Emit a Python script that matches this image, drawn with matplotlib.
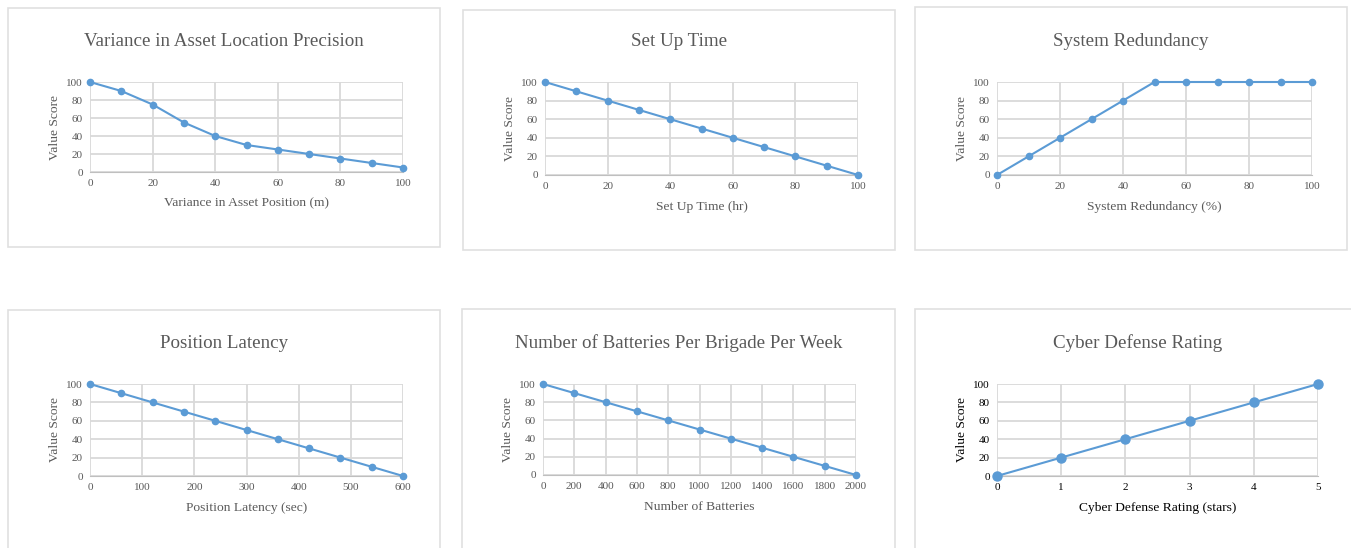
import matplotlib
matplotlib.use("Agg")
import matplotlib.pyplot as plt
from matplotlib.patches import Rectangle

plt.rcParams['font.family'] = ['Liberation Serif', 'DejaVu Serif']

# data
var_x = [0, 10, 20, 30, 40, 50, 60, 70, 80, 90, 100]
var_y = [100, 90, 75, 55, 40, 30, 25, 20, 15, 10, 5]
setup_x = [0, 10, 20, 30, 40, 50, 60, 70, 80, 90, 100]
setup_y = [100, 90, 80, 70, 60, 50, 40, 30, 20, 10, 0]
red_x = [0, 10, 20, 30, 40, 50, 60, 70, 80, 90, 100]
red_y = [0, 20, 40, 60, 80, 100, 100, 100, 100, 100, 100]
lat_x = [0, 60, 120, 180, 240, 300, 360, 420, 480, 540, 600]
lat_y = [100, 90, 80, 70, 60, 50, 40, 30, 20, 10, 0]
bat_x = [0, 200, 400, 600, 800, 1000, 1200, 1400, 1600, 1800, 2000]
bat_y = [100, 90, 80, 70, 60, 50, 40, 30, 20, 10, 0]
cyb_x = [0, 1, 2, 3, 4, 5]
cyb_y = [0, 20, 40, 60, 80, 100]

W, H = 1351, 548
fig = plt.figure(figsize=(W / 100, H / 100), dpi=100)

LINE = '#5B9BD5'
GRID = '#D9D9D9'
TXT = '#595959'

panels = [
    dict(box=(8, 8, 440, 247), ax=(90, 82, 403, 172), x=var_x, y=var_y,
         xt=range(0, 101, 20), title='Variance in Asset Location Precision',
         xl='Variance in Asset Position (m)', c=TXT, ms=4.5),
    dict(box=(463, 10, 895, 250), ax=(545, 82, 858, 175), x=setup_x, y=setup_y,
         xt=range(0, 101, 20), title='Set Up Time', xl='Set Up Time (hr)', c=TXT, ms=4.5),
    dict(box=(915, 7, 1347, 250), ax=(997, 82, 1312, 175), x=red_x, y=red_y,
         xt=range(0, 101, 20), title='System Redundancy', xl='System Redundancy (%)',
         c=TXT, ms=4.5),
    dict(box=(8, 310, 440, 560), ax=(90, 384, 403, 476), x=lat_x, y=lat_y,
         xt=range(0, 601, 100), title='Position Latency', xl='Position Latency (sec)',
         c=TXT, ms=4.5),
    dict(box=(462, 309, 895, 560), ax=(543, 384, 856, 475), x=bat_x, y=bat_y,
         xt=range(0, 2001, 200), title='Number of Batteries Per Brigade Per Week',
         xl='Number of Batteries', c=TXT, ms=4.5),
    dict(box=(915, 309, 1360, 560), ax=(997, 384, 1318, 476), x=cyb_x, y=cyb_y,
         xt=range(0, 6), title='Cyber Defense Rating', xl='Cyber Defense Rating (stars)',
         c='black', ms=6.5),
]

for p in panels:
    x0, y0, x1, y1 = p['box']
    fig.patches.append(Rectangle((x0 / W, 1 - y1 / H), (x1 - x0) / W, (y1 - y0) / H,
                                 transform=fig.transFigure, fill=False,
                                 edgecolor='#E0E0E0', linewidth=1.2))
    a0, b0, a1, b1 = p['ax']
    ax = fig.add_axes([a0 / W, 1 - b1 / H, (a1 - a0) / W, (b1 - b0) / H])
    ax.plot(p['x'], p['y'], color=LINE, linewidth=1.5, marker='o',
            markersize=p['ms'], clip_on=False, zorder=3)
    ax.set_xlim(p['xt'][0], p['xt'][-1])
    ax.set_ylim(0, 100)
    ax.set_xticks(list(p['xt']))
    ax.set_yticks(range(0, 101, 20))
    ax.grid(True, color=GRID, linewidth=1.3)
    ax.set_axisbelow(True)
    for s in ax.spines.values():
        s.set_visible(False)
    ax.spines['bottom'].set_visible(True)
    ax.spines['bottom'].set_color('#BFBFBF')
    ax.tick_params(length=0, labelsize=8, labelcolor=p['c'], pad=5)
    ax.set_xlabel(p['xl'], fontsize=9.7, color=p['c'], labelpad=7)
    ax.set_ylabel('Value Score', fontsize=9.7, color=p['c'], labelpad=4)
    fig.text((x0 + x1) / 2 / W, 1 - (b0 - 41) / H, p['title'], ha='center',
             va='center', fontsize=13.7, color=TXT)

fig.savefig('out.png', dpi=100, facecolor='white')
